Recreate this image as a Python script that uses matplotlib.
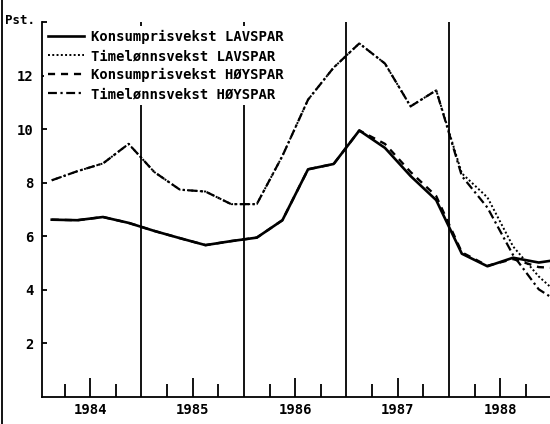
import numpy as np
import matplotlib
matplotlib.use('Agg')
import matplotlib.pyplot as plt
from matplotlib.lines import Line2D

# Kvartalsdata, 1984K1 - 1989K1 (siste punkt faller utenfor bildet)
quarters = ['1984K1', '1984K2', '1984K3', '1984K4',
            '1985K1', '1985K2', '1985K3', '1985K4',
            '1986K1', '1986K2', '1986K3', '1986K4',
            '1987K1', '1987K2', '1987K3', '1987K4',
            '1988K1', '1988K2', '1988K3', '1988K4',
            '1989K1']

konsum_lav = [6.62, 6.60, 6.72, 6.50, 6.20, 5.93, 5.67, 5.82,
              5.95, 6.60, 8.50, 8.70, 9.95, 9.30, 8.25, 7.35,
              5.35, 4.88, 5.20, 5.02, 5.16]
timelonn_lav = [8.09, 8.43, 8.72, 9.45, 8.40, 7.74, 7.67, 7.20,
                7.20, 9.00, 11.10, 12.30, 13.20, 12.45, 10.85, 11.45,
                8.35, 7.45, 5.62, 4.50, 3.64]
konsum_hoy = [6.62, 6.60, 6.72, 6.50, 6.20, 5.93, 5.67, 5.82,
              5.95, 6.60, 8.50, 8.70, 9.95, 9.45, 8.40, 7.50,
              5.40, 4.90, 5.15, 4.85, 4.80]
timelonn_hoy = [8.09, 8.43, 8.72, 9.45, 8.40, 7.74, 7.67, 7.20,
                7.20, 9.00, 11.10, 12.30, 13.20, 12.45, 10.85, 11.45,
                8.25, 7.07, 5.30, 4.02, 3.41]

years = [1984, 1985, 1986, 1987, 1988]
y_ticks = [2, 4, 6, 8, 10, 12]

labels = ['Konsumprisvekst LAVSPAR', 'Timelønnsvekst LAVSPAR',
          'Konsumprisvekst HØYSPAR', 'Timelønnsvekst HØYSPAR']


def to_x(q):
    """'1984K1' -> midten av kvartalet som desimalår"""
    return int(q[:4]) + (int(q[-1]) - 0.5) / 4


x = np.array([to_x(q) for q in quarters])

plt.rcParams['font.family'] = ['DejaVu Sans Mono', 'DejaVu Sans']
plt.rcParams['font.weight'] = 'bold'

fig = plt.figure(figsize=(5.5, 4.24), dpi=100)
ax = fig.add_axes([42 / 550, 27 / 424, 508 / 550, 375 / 424])

ax.plot(x, konsum_lav, color='black', lw=1.9, ls='-', label=labels[0])
ax.plot(x, timelonn_lav, color='black', lw=1.4, ls=(0, (1, 1.2)), label=labels[1])
ax.plot(x, konsum_hoy, color='black', lw=1.7, ls=(0, (3, 2.5)), label=labels[2])
ax.plot(x, timelonn_hoy, color='black', lw=1.6, ls=(0, (4, 1.6, 1, 1.6)), label=labels[3])

# årsskiller
for yr in years[1:]:
    ax.axvline(yr, color='black', lw=1.3, zorder=1)

ax.set_xlim(1984.03, 1988.985)
ax.set_ylim(0, 14)

ax.set_xticks([yr + 0.5 for yr in years])
ax.set_xticklabels([str(yr) for yr in years])
ax.set_xticks([yr + q for yr in years for q in (0.25, 0.75)], minor=True)
ax.tick_params(axis='x', which='major', direction='in', length=14, width=1.3,
               pad=4, labelsize=10)
ax.tick_params(axis='x', which='minor', direction='in', length=9.5, width=1.3)

ax.set_yticks(y_ticks + [14])
ax.set_yticklabels([str(v) for v in y_ticks] + [''])
ax.tick_params(axis='y', direction='in', length=3.5, width=1.3, pad=6,
               labelsize=10)

for side in ('top', 'right'):
    ax.spines[side].set_visible(False)
for side in ('left', 'bottom'):
    ax.spines[side].set_linewidth(1.3)

fig.text(5 / 550, 1 - 21 / 424, 'Pst.', fontsize=9, fontweight='bold',
         ha='left', va='center')

leg = ax.legend(loc='upper left', bbox_to_anchor=(0.004, 0.99), frameon=True,
                facecolor='white', edgecolor='none', framealpha=1,
                borderpad=0.3, borderaxespad=0, handlelength=2.6,
                handletextpad=0.5, labelspacing=0.36, fontsize=10)
leg.set_zorder(5)

# ramme langs venstre kant
fig.add_artist(Line2D([2 / 550, 2 / 550], [0, 1], color='black', lw=1.3,
                      transform=fig.transFigure))

fig.savefig('out.png', dpi=100)
